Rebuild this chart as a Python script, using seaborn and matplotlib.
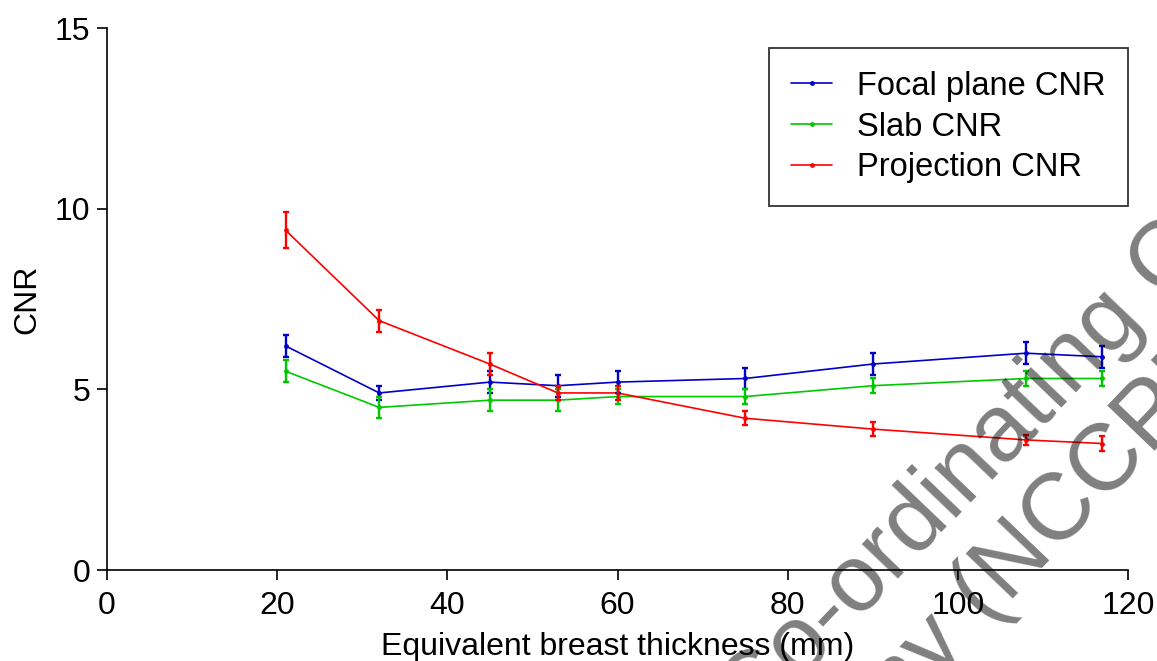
import numpy as np
import pandas as pd
import matplotlib
matplotlib.use("Agg")
import matplotlib.pyplot as plt
import seaborn as sns

# ---- data ----
thickness = [21, 32, 45, 53, 60, 75, 90, 108, 117]
focal_cnr = [6.2, 4.9, 5.2, 5.1, 5.2, 5.3, 5.7, 6.0, 5.9]
focal_err = [0.3, 0.2, 0.3, 0.3, 0.3, 0.3, 0.3, 0.3, 0.3]
slab_cnr = [5.5, 4.5, 4.7, 4.7, 4.8, 4.8, 5.1, 5.3, 5.3]
slab_err = [0.3, 0.3, 0.3, 0.3, 0.2, 0.2, 0.2, 0.2, 0.2]
proj_cnr = [9.4, 6.9, 5.7, 4.9, 4.9, 4.2, 3.9, 3.6, 3.5]
proj_err = [0.5, 0.3, 0.3, 0.2, 0.2, 0.2, 0.2, 0.15, 0.2]
series_names = ["Focal plane CNR", "Slab CNR", "Projection CNR"]
x_ticks = [0, 20, 40, 60, 80, 100, 120]
y_ticks = [0, 5, 10, 15]

colors = {"Focal plane CNR": "#0000C8", "Slab CNR": "#00C800", "Projection CNR": "#FF0000"}

frames = []
for name, vals, errs in zip(series_names, [focal_cnr, slab_cnr, proj_cnr],
                            [focal_err, slab_err, proj_err]):
    frames.append(pd.DataFrame({"x": thickness, "y": vals, "err": errs, "series": name}))
df = pd.concat(frames, ignore_index=True)

sns.set_theme(style="ticks")
plt.rcParams["font.family"] = ["Liberation Sans", "DejaVu Sans"]
for k in ["text.color", "axes.labelcolor", "xtick.color", "ytick.color", "axes.edgecolor"]:
    plt.rcParams[k] = "black"

W, H = 1157, 661
fig = plt.figure(figsize=(W / 100, H / 100), dpi=100)
ax = fig.add_axes([107 / W, 1 - 570 / H, (1128 - 107) / W, (570 - 28) / H])

sns.lineplot(data=df, x="x", y="y", hue="series", palette=colors, hue_order=series_names,
             marker="o", markersize=3.5, markeredgewidth=0, linewidth=1.2,
             ax=ax, legend=True, zorder=3)
for name in series_names:
    sub = df[df["series"] == name]
    ax.errorbar(sub["x"], sub["y"], yerr=sub["err"], fmt="none", ecolor=colors[name],
                elinewidth=1.7, capsize=2.5, capthick=1.7, zorder=3)

ax.set_xlim(0, 120)
ax.set_ylim(0, 15)
ax.set_xticks(x_ticks)
ax.set_yticks(y_ticks)
ax.tick_params(labelsize=23, length=7, width=1.2, color="black")
ax.tick_params(axis="x", pad=8)
ax.tick_params(axis="y", pad=5)
for s in ["left", "bottom"]:
    ax.spines[s].set_linewidth(1.2)
    ax.spines[s].set_color("black")
sns.despine(ax=ax)
ax.set_xlabel("Equivalent breast thickness (mm)", fontsize=23, labelpad=8)
ax.set_ylabel("CNR", fontsize=23, labelpad=9)

leg = ax.legend(loc="upper right", bbox_to_anchor=(1.0, 0.963), borderaxespad=0,
                fontsize=23.5, frameon=True, fancybox=False, edgecolor="black",
                handlelength=1.25, handletextpad=0.75, labelspacing=0.3, borderpad=0.7)
leg.get_frame().set_linewidth(1.3)
leg.set_title(None)

# watermark
def fxy(px, py):
    return px / W, 1 - py / H

ang = 46.3
wm = dict(fontsize=68, color="black", alpha=0.5, rotation=ang, rotation_mode="anchor",
          va="baseline", zorder=10)
fig.text(*fxy(753, 731), "Co-ordinating Centre", ha="left", **wm)
dx, dy = np.cos(np.radians(ang)), np.sin(np.radians(ang))
px, py = 985, 622
sp = 0.278 * 94
fig.text(*fxy(px - sp * dx, py + sp * dy), "Mammography", ha="right", **wm)
fig.text(*fxy(px, py), "(NCCPM)", ha="left", **wm)

fig.savefig("out.png", dpi=100)
